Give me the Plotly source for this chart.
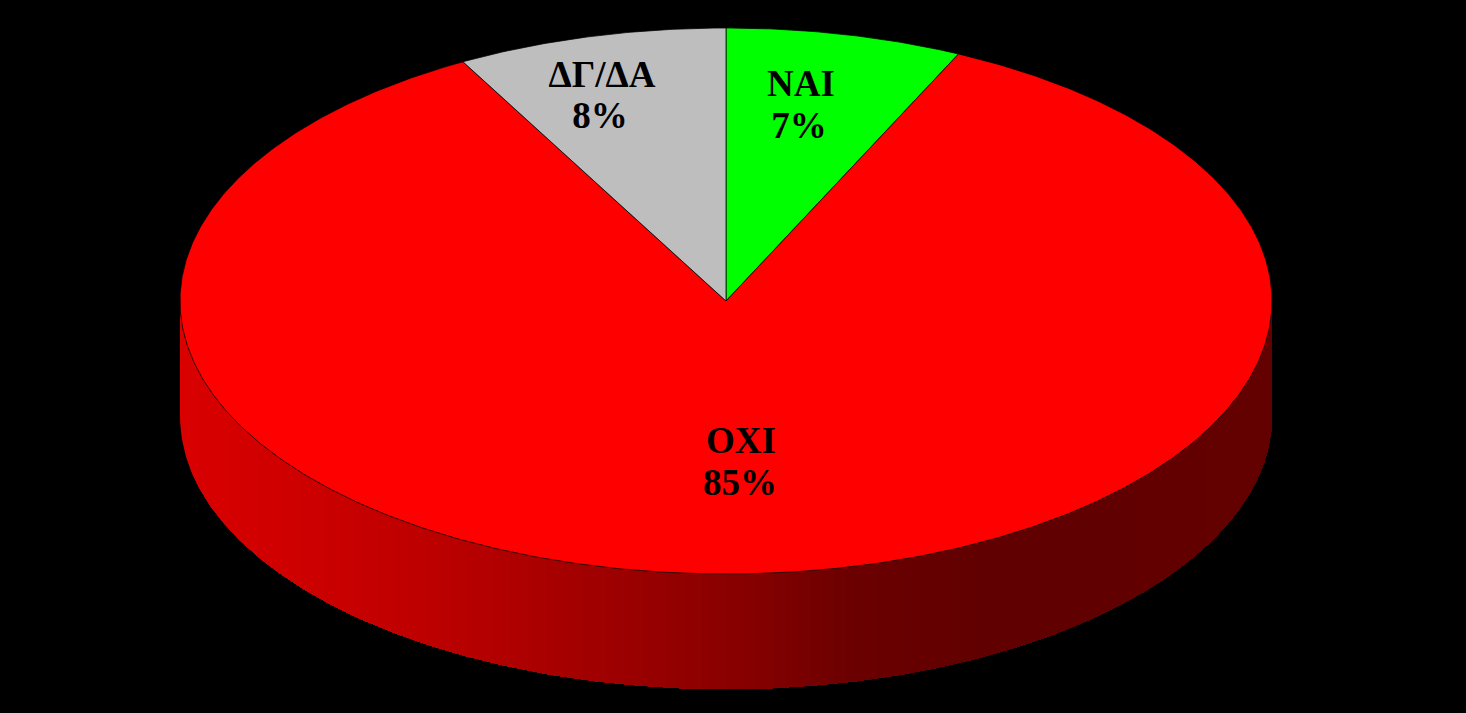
import numpy as np
import plotly.graph_objects as go

categories = ["ΝΑΙ", "ΟΧΙ", "ΔΓ/ΔΑ"]
values = [7, 85, 8]
colors = ["#00ff00", "#ff0000", "#bebebe"]
side_stops_x = [180, 300, 450, 600, 750, 850, 1000, 1272]
side_stops_shade = [218, 206, 186, 160, 135, 108, 96, 100]
name_x = [801, 741, 602]
name_y = [87, 444, 78]
pct_x = [799, 740, 600]
pct_y = [129, 486, 119]

CX, CY, RX, RY, DEPTH = 726, 301, 546, 273, 115


def pt(theta):
    return CX + RX * np.sin(theta), CY - RY * np.cos(theta)


fig = go.Figure()

# side wall: lower half of the ellipse extruded downward, shaded by x.
# Painted from left to right, each band reaching to the right end, so no seams show.
arc = np.linspace(np.pi / 2, 3 * np.pi / 2, 361)[::-1]  # left -> right
arc_x, arc_y = pt(arc)
for left in np.arange(side_stops_x[0], side_stops_x[-1], 6):
    keep = arc_x >= left
    x = np.r_[left, arc_x[keep]]
    y_top = np.interp(x, arc_x, arc_y)
    xs = np.r_[x, x[::-1]]
    ys = np.r_[y_top, (y_top + DEPTH)[::-1]]
    shade = int(np.interp(left + 3, side_stops_x, side_stops_shade))
    fig.add_trace(go.Scatter(x=xs, y=ys, mode="lines", fill="toself", fillcolor=f"rgb({shade},0,0)",
                             line=dict(width=0), hoverinfo="skip"))

# top face wedges from values
total = sum(values)
start = 0.0
for cat, val, col in zip(categories, values, colors):
    sweep = 2 * np.pi * val / total
    t = np.linspace(start, start + sweep, max(int(val * 8), 20))
    x, y = pt(t)
    fig.add_trace(go.Scatter(x=np.r_[CX, x, CX], y=np.r_[CY, y, CY], mode="lines", fill="toself",
                             fillcolor=col, line=dict(color="black", width=0.75), name=cat, hoverinfo="skip"))
    start += sweep

label_font = dict(family="Liberation Serif", size=37, color="black", weight="bold")
fig.add_trace(go.Scatter(x=name_x, y=name_y, mode="text", text=categories,
                         textposition="middle center", textfont=label_font, hoverinfo="skip"))
fig.add_trace(go.Scatter(x=pct_x, y=pct_y, mode="text", text=[f"{v}%" for v in values],
                         textposition="middle center", textfont=label_font, hoverinfo="skip"))

fig.update_layout(
    width=1466, height=713, margin=dict(l=0, r=0, t=0, b=0), showlegend=False,
    paper_bgcolor="black", plot_bgcolor="black",
    xaxis=dict(range=[0, 1466], visible=False),
    yaxis=dict(range=[713, 0], visible=False),
)
fig.write_html("out.html", config={"displayModeBar": False},
               post_script="document.body.style.margin='0';document.body.style.background='black';"
                           "document.documentElement.style.overflow='hidden';")
